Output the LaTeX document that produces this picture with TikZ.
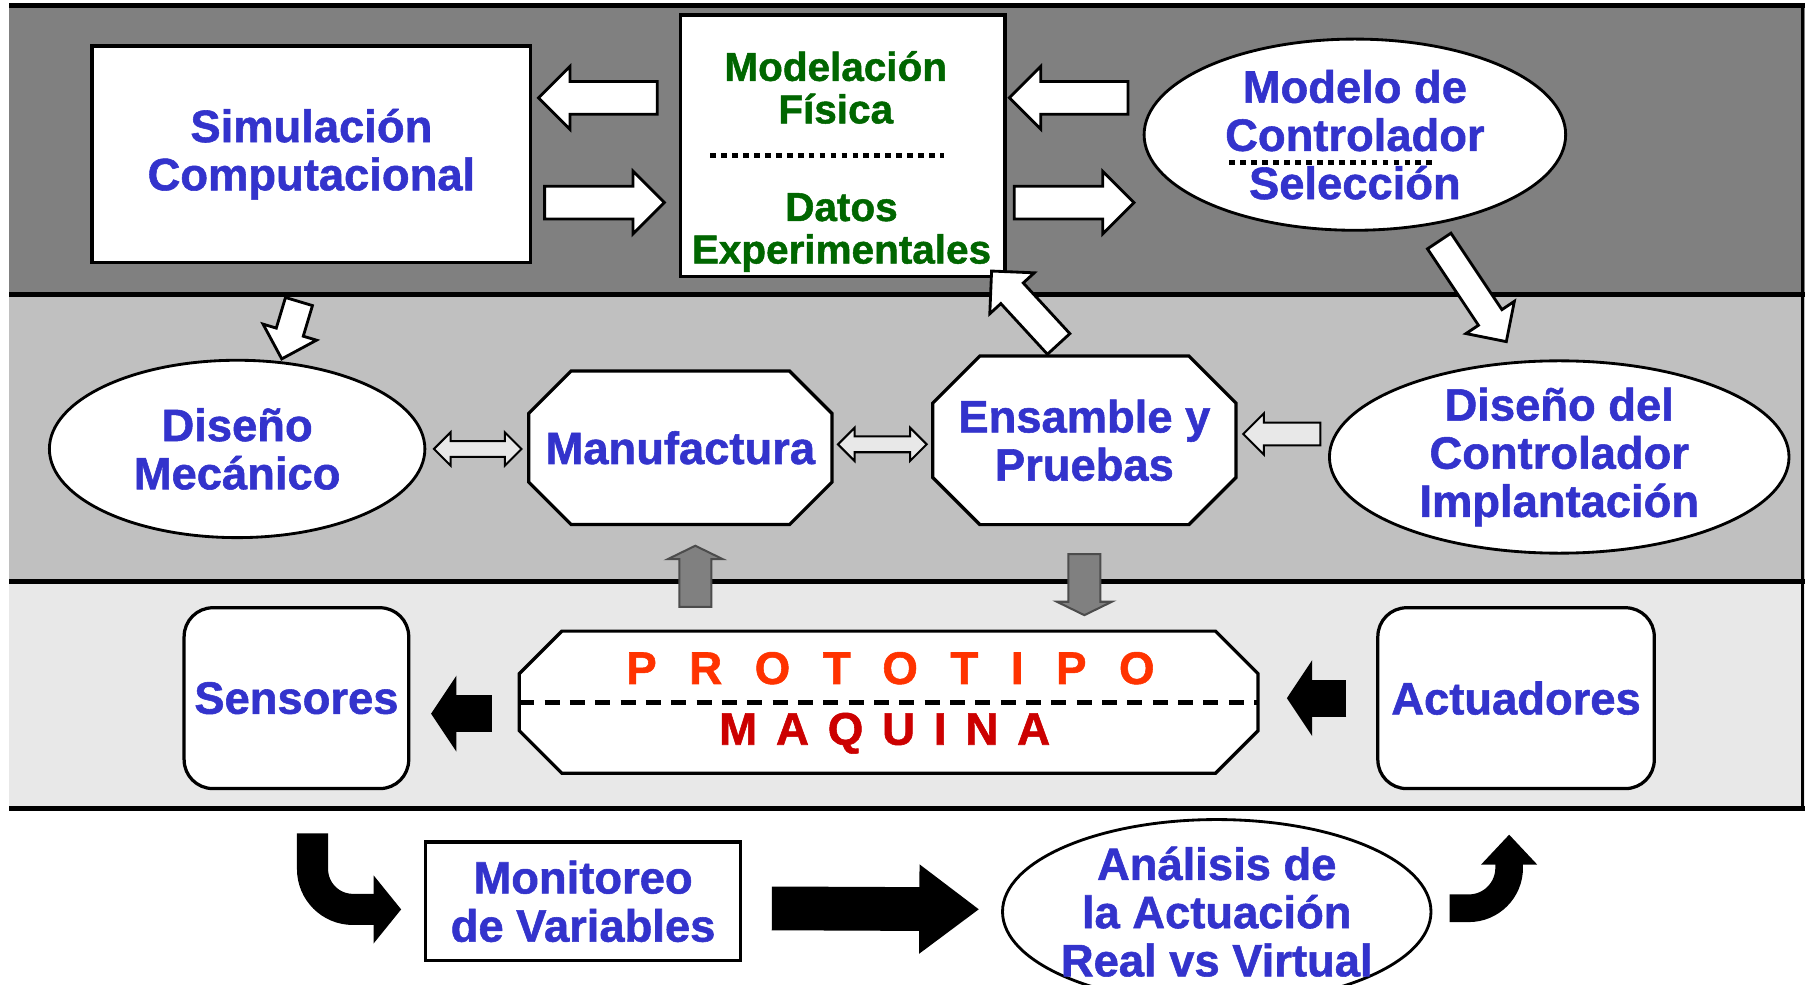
\documentclass[tikz,border=0pt]{standalone}
\usepackage{fontspec}
\setmainfont{Liberation Sans}[BoldFeatures={FakeBold=1.2}]
\usetikzlibrary{shapes.arrows,shapes.geometric,arrows.meta,positioning,calc}

\definecolor{azul}{HTML}{3333CC}
\definecolor{verde}{HTML}{006600}
\definecolor{naranja}{HTML}{FF3300}
\definecolor{rojo}{HTML}{CC0000}
\definecolor{gris1}{HTML}{808080}
\definecolor{gris2}{HTML}{C0C0C0}
\definecolor{gris3}{HTML}{E8E8E8}

\pgfdeclarelayer{fondo}
\pgfsetlayers{fondo,main}

\tikzset{
  txt/.style={text=azul,font=\bfseries\fontsize{11.2}{11.9}\selectfont,align=center},
  verdes/.style={text=verde,font=\bfseries\fontsize{10}{10.5}\selectfont,align=center},
  caja/.style={txt,draw,fill=white,line width=0.8pt,inner sep=0},
  redonda/.style={caja,rounded corners=0.25cm},
  elipse/.style={txt,ellipse,draw,fill=white,line width=0.7pt,inner sep=-0.2cm},
  octo/.style={txt,inner sep=0},
  bordeocto/.style={draw,fill=white,line width=0.8pt},
  flechab/.style={single arrow,draw,fill=white,line width=0.7pt,inner sep=0,inner ysep=0.13cm,single arrow head extend=0.13cm},
  flechac/.style={double arrow,draw,fill=gris3,line width=0.5pt,inner sep=0,inner ysep=0.06cm,double arrow head extend=0.075cm},
  flechacs/.style={single arrow,draw,fill=gris3,line width=0.5pt,inner sep=0,inner ysep=0.09cm,single arrow head extend=0.08cm},
  flechag/.style={single arrow,draw=black!70,fill=gris1,line width=0.5pt,inner sep=0,inner ysep=0.13cm,single arrow head extend=0.1cm,single arrow tip angle=128},
  flechan/.style={line width=0.32cm,-{Triangle[width=0.65cm,length=0.22cm]}},
  banda/.style={line width=1.2pt},
  punteada/.style={line width=1.2pt,dash pattern=on 0.05cm off 0.045cm}
}

\begin{document}
\begin{tikzpicture}[x=0.01cm,y=-0.01cm]
  \useasboundingbox (0,0) rectangle (1568,855);
  % bandas
  \begin{pgfonlayer}{fondo}
    \fill[gris1] (8,5) rectangle (1568,256);
    \fill[gris2] (8,256) rectangle (1568,505);
    \fill[gris3] (8,505) rectangle (1568,702);
    \foreach \y in {5,256,505,702}
      \draw[banda] (8,\y) -- (1568,\y);
    \draw[line width=0.6pt] (1566,5) -- (1566,702);
  \end{pgfonlayer}

  % nivel superior
  \node[caja,minimum width=3.81cm,minimum height=1.88cm] (sim) at (270.5,134) {Simulación\\Computacional};
  \node[caja,minimum width=2.82cm,minimum height=2.27cm] (mod) at (732,126.5) {};
  \node[verdes] (modA) at (726,76) {Modelación\\Física};
  \node[verdes] (modB) at (731,202) {Datos\\Experimentales};
  \draw[punteada] (617,135) -- (820,135);
  \node[elipse,minimum width=3.66cm,minimum height=1.66cm] (ctrl) at (1177,117) {Modelo de\\Controlador\\Selección};
  \draw[punteada] (1068,141) -- (1244,141);

  % nivel medio
  \node[elipse,minimum width=3.26cm,minimum height=1.54cm] (dmec) at (206,390) {Diseño\\Mecánico};
  \node[octo,minimum width=2.62cm,minimum height=1.32cm] (manu) at (591,389) {Manufactura};
  \node[octo,minimum width=2.62cm,minimum height=1.45cm] (ens) at (942,382.5) {Ensamble y\\Pruebas};
  \node[elipse,minimum width=3.99cm,minimum height=1.67cm] (dctrl) at (1354.5,397) {Diseño del\\Controlador\\Implantación};

  % nivel inferior
  \node[redonda,minimum width=1.95cm,minimum height=1.57cm] (sens) at (257.5,606.5) {Sensores};
  \node[octo,minimum width=6.4cm,minimum height=1.22cm] (proto) at (772,610) {};
  \draw[line width=1.3pt,dash pattern=on 0.13cm off 0.09cm] (proto.west) -- (proto.east);
  \node[text=naranja,font=\bfseries\fontsize{11.3}{12}\selectfont\addfontfeature{LetterSpace=71}] (protoA) at (773.5,580.5) {PROTOTIPO};
  \node[text=rojo,font=\bfseries\fontsize{11.3}{12}\selectfont\addfontfeature{LetterSpace=41}] (protoB) at (768.5,637) {MAQUINA};
  \node[redonda,minimum width=2.4cm,minimum height=1.57cm] (act) at (1317,606.5) {Actuadores};

  % octagonos
  \begin{pgfonlayer}{fondo}
    \foreach \n/\c in {manu/37,ens/41,proto/37}
      \draw[bordeocto] ($(\n.north west)+(\c,0)$) -- ($(\n.north east)+(-\c,0)$) -- ($(\n.north east)+(0,\c)$)
        -- ($(\n.south east)+(0,-\c)$) -- ($(\n.south east)+(-\c,0)$) -- ($(\n.south west)+(\c,0)$)
        -- ($(\n.south west)+(0,-\c)$) -- ($(\n.north west)+(0,\c)$) -- cycle;
  \end{pgfonlayer}

  % fila de abajo
  \node[caja,minimum width=2.73cm,minimum height=1.03cm] (mon) at (506.5,783) {Monitoreo\\de Variables};
  \node[elipse,minimum width=3.72cm,minimum height=1.6cm] (ana) at (1057,792) {Análisis de\\la Actuación\\Real vs Virtual};

  % flechas blancas
  \node[flechab,minimum height=1.03cm,rotate=180] (f1) at (526.5,85) {};
  \node[flechab,minimum height=1.04cm] (f2) at (518,176) {};
  \node[flechab,minimum height=1.03cm,rotate=180] (f3) at (935.5,85) {};
  \node[flechab,minimum height=1.04cm] (f4) at (926,176) {};
  \node[flechab,minimum height=0.52cm,inner ysep=0.11cm,single arrow head extend=0.12cm,rotate=-106.7] (f5) at (254,281) {};
  \node[flechab,minimum height=1.05cm,inner ysep=0.11cm,rotate=-56.3] (f6) at (1276,248) {};
  \node[flechab,minimum height=0.86cm,inner ysep=0.12cm,rotate=132.6] (f7) at (895,272) {};

  % flechas claras
  \node[flechac,minimum height=0.76cm] (d1) at (415,390) {};
  \node[flechac,minimum height=0.77cm] (d2) at (766.5,386) {};
  \node[flechacs,minimum height=0.67cm,rotate=180] (f8) at (1118.5,377) {};

  % flechas grises
  \node[flechag,minimum height=0.53cm,rotate=90] (g1) at (604,504) {};
  \node[flechag,minimum height=0.53cm,rotate=-90] (g2) at (942,504.5) {};

  % flechas negras
  \draw[flechan,shorten <=0.24cm,shorten >=0.18cm] ([yshift=-0.1cm]proto.west) -- ([yshift=-0.1cm]proto.west -| sens.east);
  \draw[flechan,shorten <=0.26cm,shorten >=0.25cm] (act.west) -- (act.west -| proto.east);
  \draw[flechan,line width=0.38cm,-{Triangle[width=0.74cm,length=0.52cm]},shorten <=0.26cm,shorten >=0.19cm] ([yshift=-0.06cm]mon.east) -- ([yshift=0.02cm]ana.west);
  \coordinate (s1) at (271.5,724);
  \draw[flechan,line width=0.27cm,-{Triangle[width=0.58cm,length=0.24cm]},rounded corners=0.35cm,shorten >=0.2cm] (s1) |- ([yshift=-0.07cm]mon.west);
  \coordinate (s2) at (1311,725);
  \draw[flechan,line width=0.24cm,-{Triangle[width=0.47cm,length=0.26cm]},rounded corners=0.35cm,shorten <=0.15cm] ([yshift=0.03cm]ana.east) -| (s2);
\end{tikzpicture}
\end{document}
